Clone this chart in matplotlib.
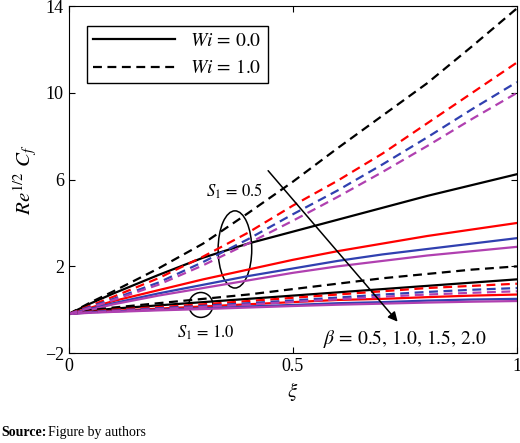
import matplotlib
matplotlib.use("Agg")
import matplotlib.pyplot as plt
from matplotlib.patches import Ellipse

plt.rcParams['font.family'] = ['Liberation Serif', 'DejaVu Serif']
plt.rcParams['mathtext.fontset'] = 'stix'

xi = [0, 0.05, 0.1, 0.2, 0.3, 0.4, 0.5, 0.6, 0.7, 0.8, 0.9, 1.0]
colors = ['black', 'red', '#3040b0', '#b040b0']

# S1 = 0.5, Wi = 0.0 (solid) for beta = 0.5,1.0,1.5,2.0
s05_wi0 = [
    [-0.2, 0.3, 0.75, 1.6, 2.4, 3.05, 3.6, 4.15, 4.7, 5.25, 5.75, 6.25],
    [-0.2, 0.1, 0.4, 0.9, 1.4, 1.85, 2.3, 2.7, 3.05, 3.4, 3.7, 4.0],
    [-0.2, 0.05, 0.3, 0.75, 1.15, 1.55, 1.9, 2.25, 2.55, 2.8, 3.05, 3.3],
    [-0.2, 0.0, 0.25, 0.65, 1.0, 1.35, 1.7, 2.0, 2.25, 2.5, 2.7, 2.9],
]
s05_wi1 = [
    [-0.2, 0.35, 0.85, 1.9, 3.05, 4.45, 5.9, 7.45, 8.95, 10.45, 12.15, 13.9],
    [-0.2, 0.2, 0.6, 1.45, 2.45, 3.55, 4.8, 5.95, 7.2, 8.6, 10.0, 11.4],
    [-0.2, 0.15, 0.5, 1.25, 2.2, 3.25, 4.4, 5.5, 6.7, 7.95, 9.25, 10.5],
    [-0.2, 0.1, 0.45, 1.15, 2.05, 3.05, 4.1, 5.2, 6.35, 7.55, 8.8, 10.0],
]
s10_wi0 = [
    [-0.2, -0.05, 0.05, 0.2, 0.35, 0.5, 0.65, 0.8, 0.95, 1.1, 1.25, 1.4],
    [-0.2, -0.1, -0.05, 0.05, 0.15, 0.25, 0.35, 0.45, 0.5, 0.58, 0.65, 0.7],
    [-0.2, -0.12, -0.08, 0.0, 0.07, 0.15, 0.22, 0.3, 0.35, 0.42, 0.47, 0.5],
    [-0.2, -0.14, -0.1, -0.03, 0.03, 0.1, 0.17, 0.23, 0.28, 0.33, 0.37, 0.4],
]
s10_wi1 = [
    [-0.2, -0.02, 0.1, 0.3, 0.5, 0.7, 0.95, 1.2, 1.45, 1.65, 1.85, 2.0],
    [-0.2, -0.08, 0.0, 0.12, 0.25, 0.4, 0.55, 0.7, 0.85, 1.0, 1.1, 1.2],
    [-0.2, -0.1, -0.04, 0.07, 0.18, 0.3, 0.43, 0.56, 0.7, 0.82, 0.92, 1.0],
    [-0.2, -0.12, -0.07, 0.03, 0.13, 0.24, 0.36, 0.48, 0.6, 0.7, 0.78, 0.85],
]

fig = plt.figure(figsize=(5.2, 4.43), dpi=100)
ax = fig.add_axes([0.132, 0.203, 0.862, 0.783])

for grp in (s10_wi0, s05_wi0):
    for c, y in zip(colors, grp):
        ax.plot(xi, y, color=c, lw=1.6, ls='-')
for grp in (s10_wi1, s05_wi1):
    for c, y in zip(colors, grp):
        ax.plot(xi, y, color=c, lw=1.6, ls=(0, (4, 2.5)))

ax.set_xlim(0, 1)
ax.set_ylim(-2, 14)
ax.set_xticks([0, 0.5, 1])
ax.set_xticklabels(['0', '0.5', '1'])
ax.set_yticks([-2, 2, 6, 10, 14])
ax.tick_params(direction='in', top=True, right=True, labelsize=13, length=4)
ax.set_xlabel(r'$\xi$', fontsize=15)
ax.set_ylabel(r'$Re^{1/2}\ C_f$', fontsize=15)

h1, = ax.plot([], [], color='black', lw=1.6, ls='-')
h2, = ax.plot([], [], color='black', lw=1.6, ls=(0, (4, 2.5)))
ax.legend([h1, h2], [r'$Wi\,=\,0.0$', r'$Wi\,=\,1.0$'], loc='upper left',
          fontsize=14, fancybox=False, edgecolor='black', framealpha=1,
          handlelength=4.2, borderpad=0.3, bbox_to_anchor=(0.02, 0.97))

ax.add_patch(Ellipse((0.371, 2.78), 0.075, 3.56, fill=False, color='black', lw=1.1))
ax.add_patch(Ellipse((0.295, 0.22), 0.0535, 1.15, fill=False, color='black', lw=1.1))
ax.annotate('', xy=(0.738, -0.65), xytext=(0.441, 6.51),
            arrowprops=dict(arrowstyle='-|>', color='black', lw=1.1, mutation_scale=14))
ax.text(0.37, 5.44, r'$S_1\,=\,0.5$', fontsize=12, ha='center', va='center')
ax.text(0.306, -1.05, r'$S_1\,=\,1.0$', fontsize=12, ha='center', va='center')
ax.text(0.75, -1.36, r'$\beta\,=\,0.5,\,1.0,\,1.5,\,2.0$', fontsize=14, ha='center', va='center')

fig.text(0.002, 0.01, 'Source:', fontsize=10, fontweight='bold', ha='left', va='bottom')
fig.text(0.092, 0.01, 'Figure by authors', fontsize=10, ha='left', va='bottom')

fig.savefig('out.png', dpi=100)
